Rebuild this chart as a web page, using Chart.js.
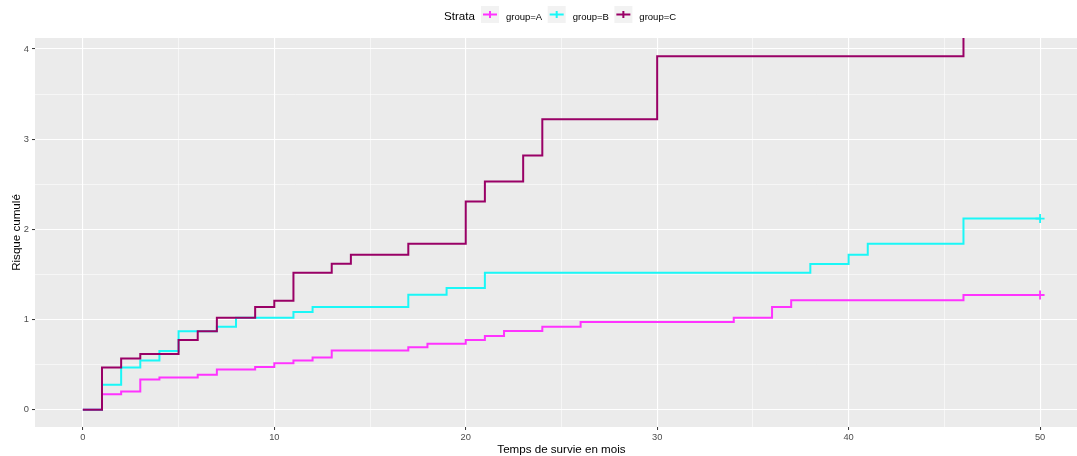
<!DOCTYPE html>
<html>
<head>
<meta charset="utf-8">
<script src="https://cdn.jsdelivr.net/npm/chart.js@4/dist/chart.umd.min.js"></script>
<style>
  html, body { margin: 0; padding: 0; background: #ffffff; overflow: hidden; }
  #wrap { width: 1077px; height: 456px; position: relative; }
</style>
</head>
<body>
<div id="wrap"><canvas id="chart" width="1077" height="456"></canvas></div>
<script>
// Cumulative hazard step curves per stratum (time in months, cumulative risk)
const strata = ['group=A', 'group=B', 'group=C'];

const timesA = [0, 1, 2, 3, 4, 6, 7, 9, 10, 11, 12, 13, 17, 18, 20, 21, 22, 24, 26, 34, 36, 37, 46, 50];
const riskA  = [0, 0.174, 0.203, 0.336, 0.358, 0.39, 0.446, 0.476, 0.517, 0.546, 0.58, 0.657, 0.694, 0.734, 0.775, 0.82, 0.875, 0.92, 0.975, 1.022, 1.14, 1.215, 1.273, 1.273];

const timesB = [0, 1, 2, 3, 4, 5, 7, 8, 11, 12, 17, 19, 21, 38, 40, 41, 46, 50];
const riskB  = [0, 0.277, 0.47, 0.546, 0.653, 0.87, 0.92, 1.02, 1.085, 1.14, 1.277, 1.35, 1.52, 1.617, 1.72, 1.84, 2.12, 2.12];

const timesC = [0, 1, 2, 3, 5, 6, 7, 9, 10, 11, 13, 14, 17, 20, 21, 23, 24, 30, 46];
const riskC  = [0, 0.47, 0.57, 0.62, 0.775, 0.87, 1.02, 1.14, 1.21, 1.52, 1.62, 1.72, 1.84, 2.31, 2.53, 2.82, 3.22, 3.92, 4.9];

// Censoring times (drawn as "+")
const censorA = [50];
const censorB = [50];
const censorC = [];

// Axis ticks
const xTicks = [0, 5, 10, 15, 20, 25, 30, 35, 40, 45, 50];
const xLabels = [0, 10, 20, 30, 40, 50];
const yTicks = [0, 0.5, 1, 1.5, 2, 2.5, 3, 3.5, 4];
const yLabels = [0, 1, 2, 3, 4];

const colors = ['#FF33FF', '#1AF7F7', '#990066'];
const FONT = "'Liberation Sans', Arial, sans-serif";

const groups = [
  { times: timesA, risk: riskA, censor: censorA },
  { times: timesB, risk: riskB, censor: censorB },
  { times: timesC, risk: riskC, censor: censorC }
];

function stepValue(times, risk, t) {
  let v = risk[0];
  for (let i = 0; i < times.length; i++) if (times[i] <= t) v = risk[i];
  return v;
}

const datasets = [];
groups.forEach((g, i) => {
  datasets.push({
    label: strata[i],
    data: g.times.map((t, k) => ({ x: t, y: g.risk[k] })),
    stepped: 'before',
    borderColor: colors[i],
    backgroundColor: colors[i],
    borderWidth: 2,
    pointRadius: 0,
    fill: false,
    clip: 0,
    order: 3 - i
  });
});
groups.forEach((g, i) => {
  if (!g.censor.length) return;
  datasets.push({
    label: strata[i] + ' censor',
    data: g.censor.map(t => ({ x: t, y: stepValue(g.times, g.risk, t) })),
    showLine: false,
    pointStyle: 'cross',
    pointRadius: 4.5,
    pointBorderWidth: 1.8,
    borderColor: colors[i],
    backgroundColor: colors[i],
    clip: 0,
    order: 0
  });
});

const panelBackground = {
  id: 'panelBackground',
  beforeDraw(chart) {
    const { ctx, chartArea: a } = chart;
    ctx.save();
    ctx.fillStyle = '#EBEBEB';
    ctx.fillRect(a.left, a.top, a.right - a.left, a.bottom - a.top);
    ctx.restore();
  }
};

// Legend on top ("Strata" + keys) and the x axis title centred on the data range
const decorations = {
  id: 'decorations',
  afterDraw(chart) {
    const ctx = chart.ctx;
    ctx.save();
    // x axis title
    const xs = chart.scales.x;
    const mid = (xTicks[0] + xTicks[xTicks.length - 1]) / 2;
    ctx.fillStyle = '#000000';
    ctx.font = '11.6px ' + FONT;
    ctx.textAlign = 'center';
    ctx.textBaseline = 'alphabetic';
    ctx.fillText('Temps de survie en mois', xs.getPixelForValue(mid), 453);

    // legend
    ctx.textAlign = 'left';
    ctx.font = '11.6px ' + FONT;
    ctx.fillText('Strata', 444, 20);
    let x = 481;
    const boxTop = 6, box = 17, cy = 14.5;
    ctx.font = '9.5px ' + FONT;
    strata.forEach((name, i) => {
      ctx.fillStyle = '#F2F2F2';
      ctx.fillRect(x, boxTop, box + 1, box);
      ctx.strokeStyle = colors[i];
      ctx.lineWidth = 2;
      ctx.beginPath();
      ctx.moveTo(x + 2, cy);
      ctx.lineTo(x + box - 1, cy);
      ctx.moveTo(x + (box + 1) / 2, cy - 3.5);
      ctx.lineTo(x + (box + 1) / 2, cy + 3.5);
      ctx.stroke();
      ctx.fillStyle = '#000000';
      ctx.fillText(name, x + box + 8, 20);
      x += box + 8 + ctx.measureText(name).width + 5.5;
    });
    ctx.restore();
  }
};

new Chart(document.getElementById('chart'), {
  type: 'line',
  data: { datasets },
  plugins: [panelBackground, decorations],
  options: {
    responsive: false,
    animation: false,
    devicePixelRatio: 1,
    layout: { autoPadding: false, padding: { top: 38, left: 0, right: 0, bottom: 0 } },
    plugins: { legend: { display: false }, tooltip: { enabled: false } },
    scales: {
      x: {
        type: 'linear',
        min: -2.5,
        max: 51.93,
        afterBuildTicks: s => { s.ticks = xTicks.map(v => ({ value: v })); },
        afterFit: s => { s.height = 29; s.paddingLeft = 0; s.paddingRight = 0; },
        border: { display: false },
        grid: {
          color: '#FFFFFF',
          lineWidth: c => (xLabels.includes(c.tick && c.tick.value) ? 1.1 : 0.55),
          tickColor: c => (xLabels.includes(c.tick && c.tick.value) ? '#333333' : 'rgba(0,0,0,0)'),
          tickLength: 3,
          tickWidth: 1
        },
        ticks: {
          autoSkip: false,
          maxRotation: 0,
          padding: 2,
          color: '#4D4D4D',
          font: { size: 9.3, family: FONT },
          callback: v => (xLabels.includes(v) ? String(v) : '')
        }
      },
      y: {
        type: 'linear',
        min: -0.19,
        max: 4.122,
        afterBuildTicks: s => { s.ticks = yTicks.map(v => ({ value: v })); },
        afterFit: s => { s.width = 35; s.paddingTop = 0; s.paddingBottom = 0; },
        border: { display: false },
        grid: {
          color: '#FFFFFF',
          lineWidth: c => (yLabels.includes(c.tick && c.tick.value) ? 1.1 : 0.55),
          tickColor: c => (yLabels.includes(c.tick && c.tick.value) ? '#333333' : 'rgba(0,0,0,0)'),
          tickLength: 3,
          tickWidth: 1
        },
        ticks: {
          autoSkip: false,
          padding: 3,
          color: '#4D4D4D',
          font: { size: 9.3, family: FONT },
          callback: v => (yLabels.includes(v) ? String(v) : '')
        },
        title: {
          display: true,
          text: 'Risque cumulé',
          color: '#000000',
          font: { size: 11.6, family: FONT },
          padding: { top: 10, bottom: 0 }
        }
      }
    }
  }
});
</script>
</body>
</html>
